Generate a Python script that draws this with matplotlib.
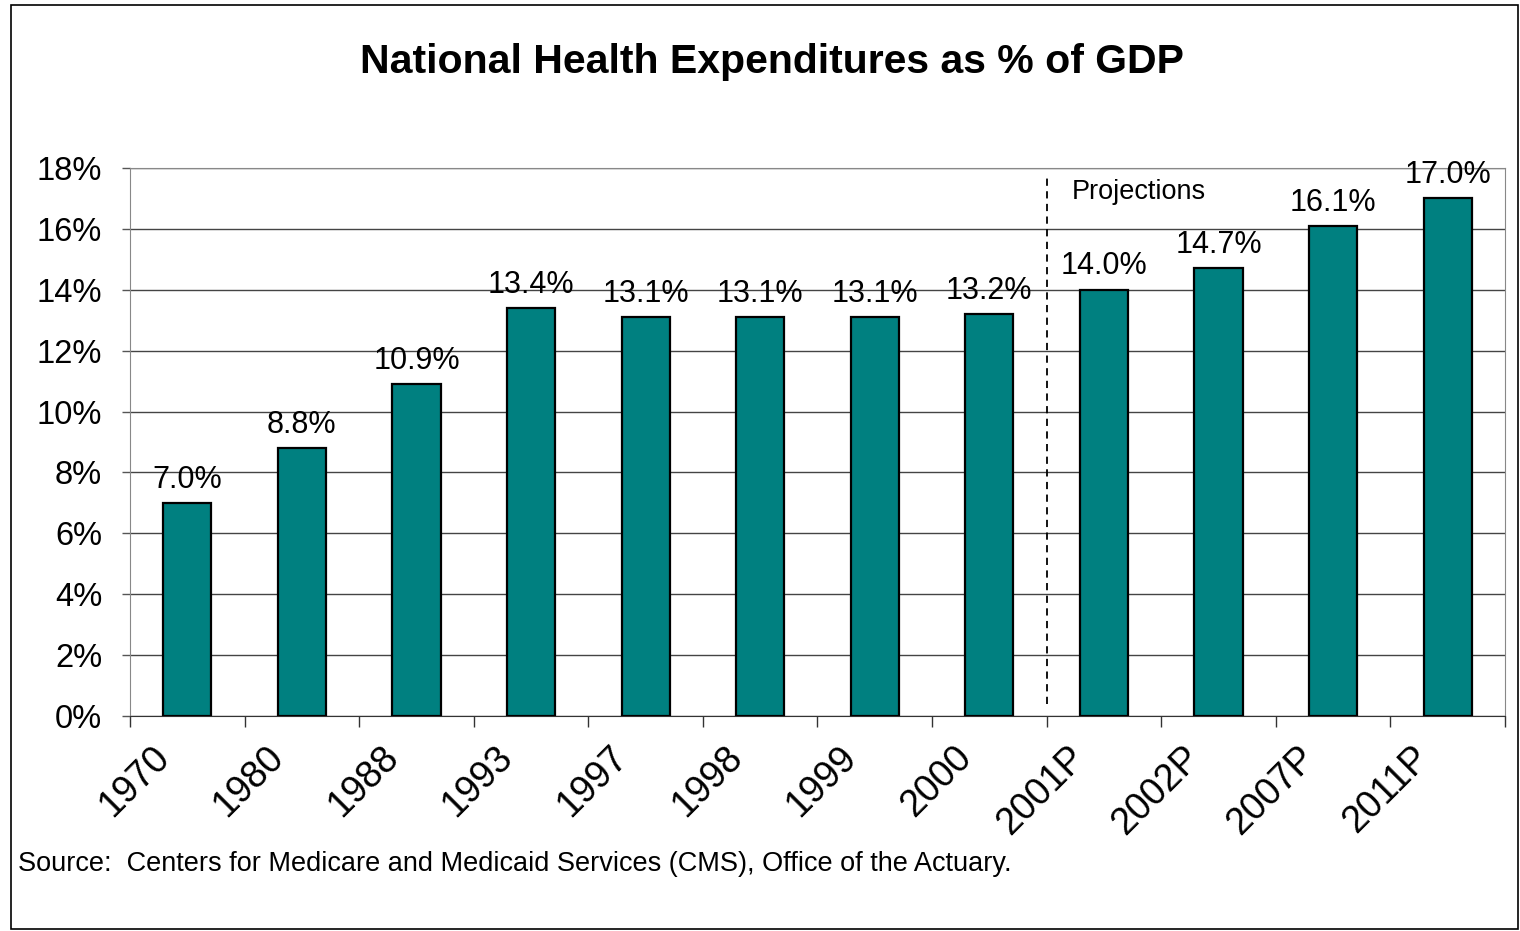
import matplotlib.pyplot as plt
import matplotlib.transforms as mtransforms
from matplotlib.patches import Rectangle

plt.rcParams['font.family'] = ['Liberation Sans', 'DejaVu Sans']

years = ['1970', '1980', '1988', '1993', '1997', '1998', '1999', '2000',
         '2001P', '2002P', '2007P', '2011P']
pct_gdp = [7.0, 8.8, 10.9, 13.4, 13.1, 13.1, 13.1, 13.2, 14.0, 14.7, 16.1, 17.0]
value_labels = ['7.0%', '8.8%', '10.9%', '13.4%', '13.1%', '13.1%', '13.1%',
                '13.2%', '14.0%', '14.7%', '16.1%', '17.0%']
first_projection = 8  # index of 2001P

fig = plt.figure(figsize=(15.2, 9.31), dpi=100)
ax = fig.add_axes([130 / 1520, 1 - 716 / 931, 1375 / 1520, 548 / 931])

x = list(range(len(years)))
ax.bar(x, pct_gdp, width=0.42, color='#008080', edgecolor='black',
       linewidth=1.6, zorder=3)

for xi, v, lab in zip(x, pct_gdp, value_labels):
    ax.annotate(lab, (xi, v), xytext=(0, 6), textcoords='offset points',
                ha='center', va='bottom', fontsize=22)

ax.set_xlim(-0.5, len(years) - 0.5)
ax.set_ylim(0, 18)
ax.set_yticks(range(0, 19, 2))
ax.set_yticklabels([f'{t}%' for t in range(0, 19, 2)], fontsize=23.5)
ax.tick_params(axis='y', length=6, width=1, color='#555555', pad=14)
ax.yaxis.grid(True, color='#444444', linewidth=1)
ax.set_axisbelow(True)

# category labels at centres, tick marks at the boundaries
ax.set_xticks(x)
ax.set_xticklabels(years, rotation=45, ha='right', va='top', fontsize=27)
ax.tick_params(axis='x', which='major', length=0, pad=17)
ax.set_xticks([i - 0.5 for i in range(len(years) + 1)], minor=True)
ax.tick_params(axis='x', which='minor', length=8, width=1, color='#333333')
shift = mtransforms.ScaledTranslation(-11 / 100, 0, fig.dpi_scale_trans)
for lbl in ax.get_xticklabels():
    lbl.set_transform(lbl.get_transform() + shift)

for side in ['left', 'right', 'top']:
    ax.spines[side].set_color('#888888')
ax.spines['bottom'].set_color('#333333')

# projections divider
ax.plot([first_projection - 0.5] * 2, [0.4, 17.7], color='black',
        linestyle=(0, (4, 3)), linewidth=1.3, zorder=4)
ax.text(first_projection - 0.28, 17.2, 'Projections', fontsize=19.5,
        ha='left', va='center')

fig.text(772 / 1520, 1 - 62 / 931, 'National Health Expenditures as % of GDP',
         ha='center', va='center', fontsize=29.5, fontweight='bold')
fig.text(18 / 1520, 1 - 864 / 931,
         'Source:  Centers for Medicare and Medicaid Services (CMS), Office of the Actuary.',
         ha='left', va='center', fontsize=19.5)

fig.patches.append(Rectangle((11 / 1520, 2 / 931), 1507 / 1520, 924 / 931,
                             transform=fig.transFigure, fill=False,
                             edgecolor='black', linewidth=1.2))

fig.savefig('out.png', dpi=100)
